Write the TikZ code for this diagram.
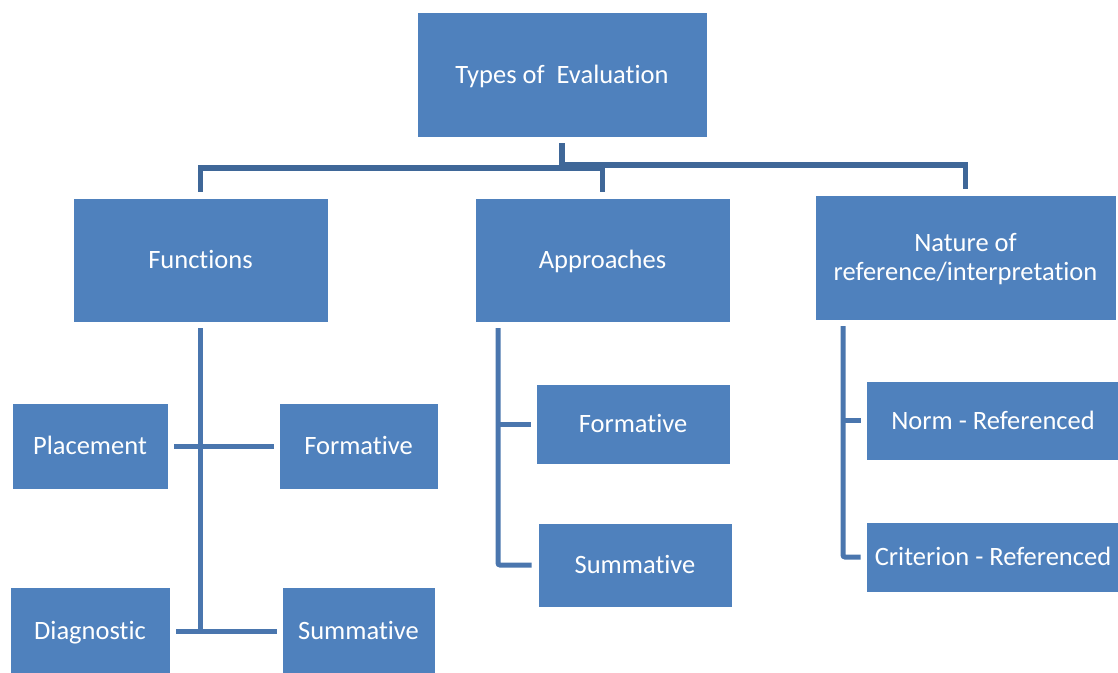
\documentclass[tikz,border=0pt]{standalone}
\usepackage{fontspec}
\setmainfont{Carlito}[Ligatures=NoCommon]
\definecolor{boxblue}{HTML}{4F81BD}
\definecolor{topline}{HTML}{3F6798}
\definecolor{subline}{HTML}{4A76AE}
\begin{document}
\begin{tikzpicture}[x=1pt,y=-1pt,
  box/.style={fill=boxblue,draw=white,line width=0.8pt,text=white,inner sep=0pt,
    align=center,text height=20pt,text depth=3pt,font=\fontsize{26.5}{29}\selectfont},
  tc/.style={draw=topline,line width=5.5pt},
  sc/.style={draw=subline,line width=5pt,rounded corners=2pt}]
\useasboundingbox (0,0) rectangle (1118,672);
\node[box,minimum width=290pt,minimum height=125pt] (top) at (562,74.5) {Types of~ Evaluation};
\node[box,minimum width=255pt,minimum height=124pt] (func) at (200.5,260) {Functions};
\node[box,minimum width=255pt,minimum height=124pt] (appr) at (602.5,260) {Approaches};
\node[box,minimum width=301pt,minimum height=125pt,text height=49pt] (nat) at (965.5,257.5) {Nature of\\reference/interpretation};
\node[box,minimum width=156pt,minimum height=86pt] (place) at (90,446) {Placement};
\node[box,minimum width=159pt,minimum height=86pt] (formL) at (358.5,446) {Formative};
\node[box,minimum width=160pt,minimum height=88pt] (diag) at (90,631) {Diagnostic};
\node[box,minimum width=153pt,minimum height=88pt] (sumL) at (358.5,631) {Summative};
\node[box,minimum width=194pt,minimum height=80pt] (formM) at (633,424) {Formative};
\node[box,minimum width=194pt,minimum height=84pt] (sumM) at (635,565) {Summative};
\node[box,minimum width=254pt,minimum height=79pt] (norm) at (993,420.5) {Norm - Referenced};
\node[box,minimum width=254pt,minimum height=70pt] (crit) at (993,557) {Criterion - Referenced};
% top connectors
\draw[tc] ([yshift=-6pt]top.south) -- ([yshift=-31pt]top.south);
\draw[tc] ([yshift=6pt]func.north) -- (func.north |- 0,168) -- (appr.north |- 0,168) -- ([yshift=6pt]appr.north);
\draw[tc] (top.south |- 0,165) -- (nat.north |- 0,165) -- ([yshift=6pt]nat.north);
% functions
\draw[sc] ([yshift=-6pt]func.south) -- (func.south |- 0,633);
\draw[sc] ([xshift=6pt]place.east) -- ([xshift=-5pt]formL.west);
\draw[sc] ([xshift=6pt]diag.east) -- ([xshift=-5pt]sumL.west);
% approaches
\draw[sc] (498,328) -- (498,565) -- ([xshift=-6pt]sumM.west);
\draw[sc] (498,424) -- ([xshift=-5pt]formM.west);
% nature
\draw[sc] (843,326) -- (843,557) -- ([xshift=-5pt]crit.west);
\draw[sc] (843,420.5) -- ([xshift=-5pt]norm.west);
\end{tikzpicture}
\end{document}
